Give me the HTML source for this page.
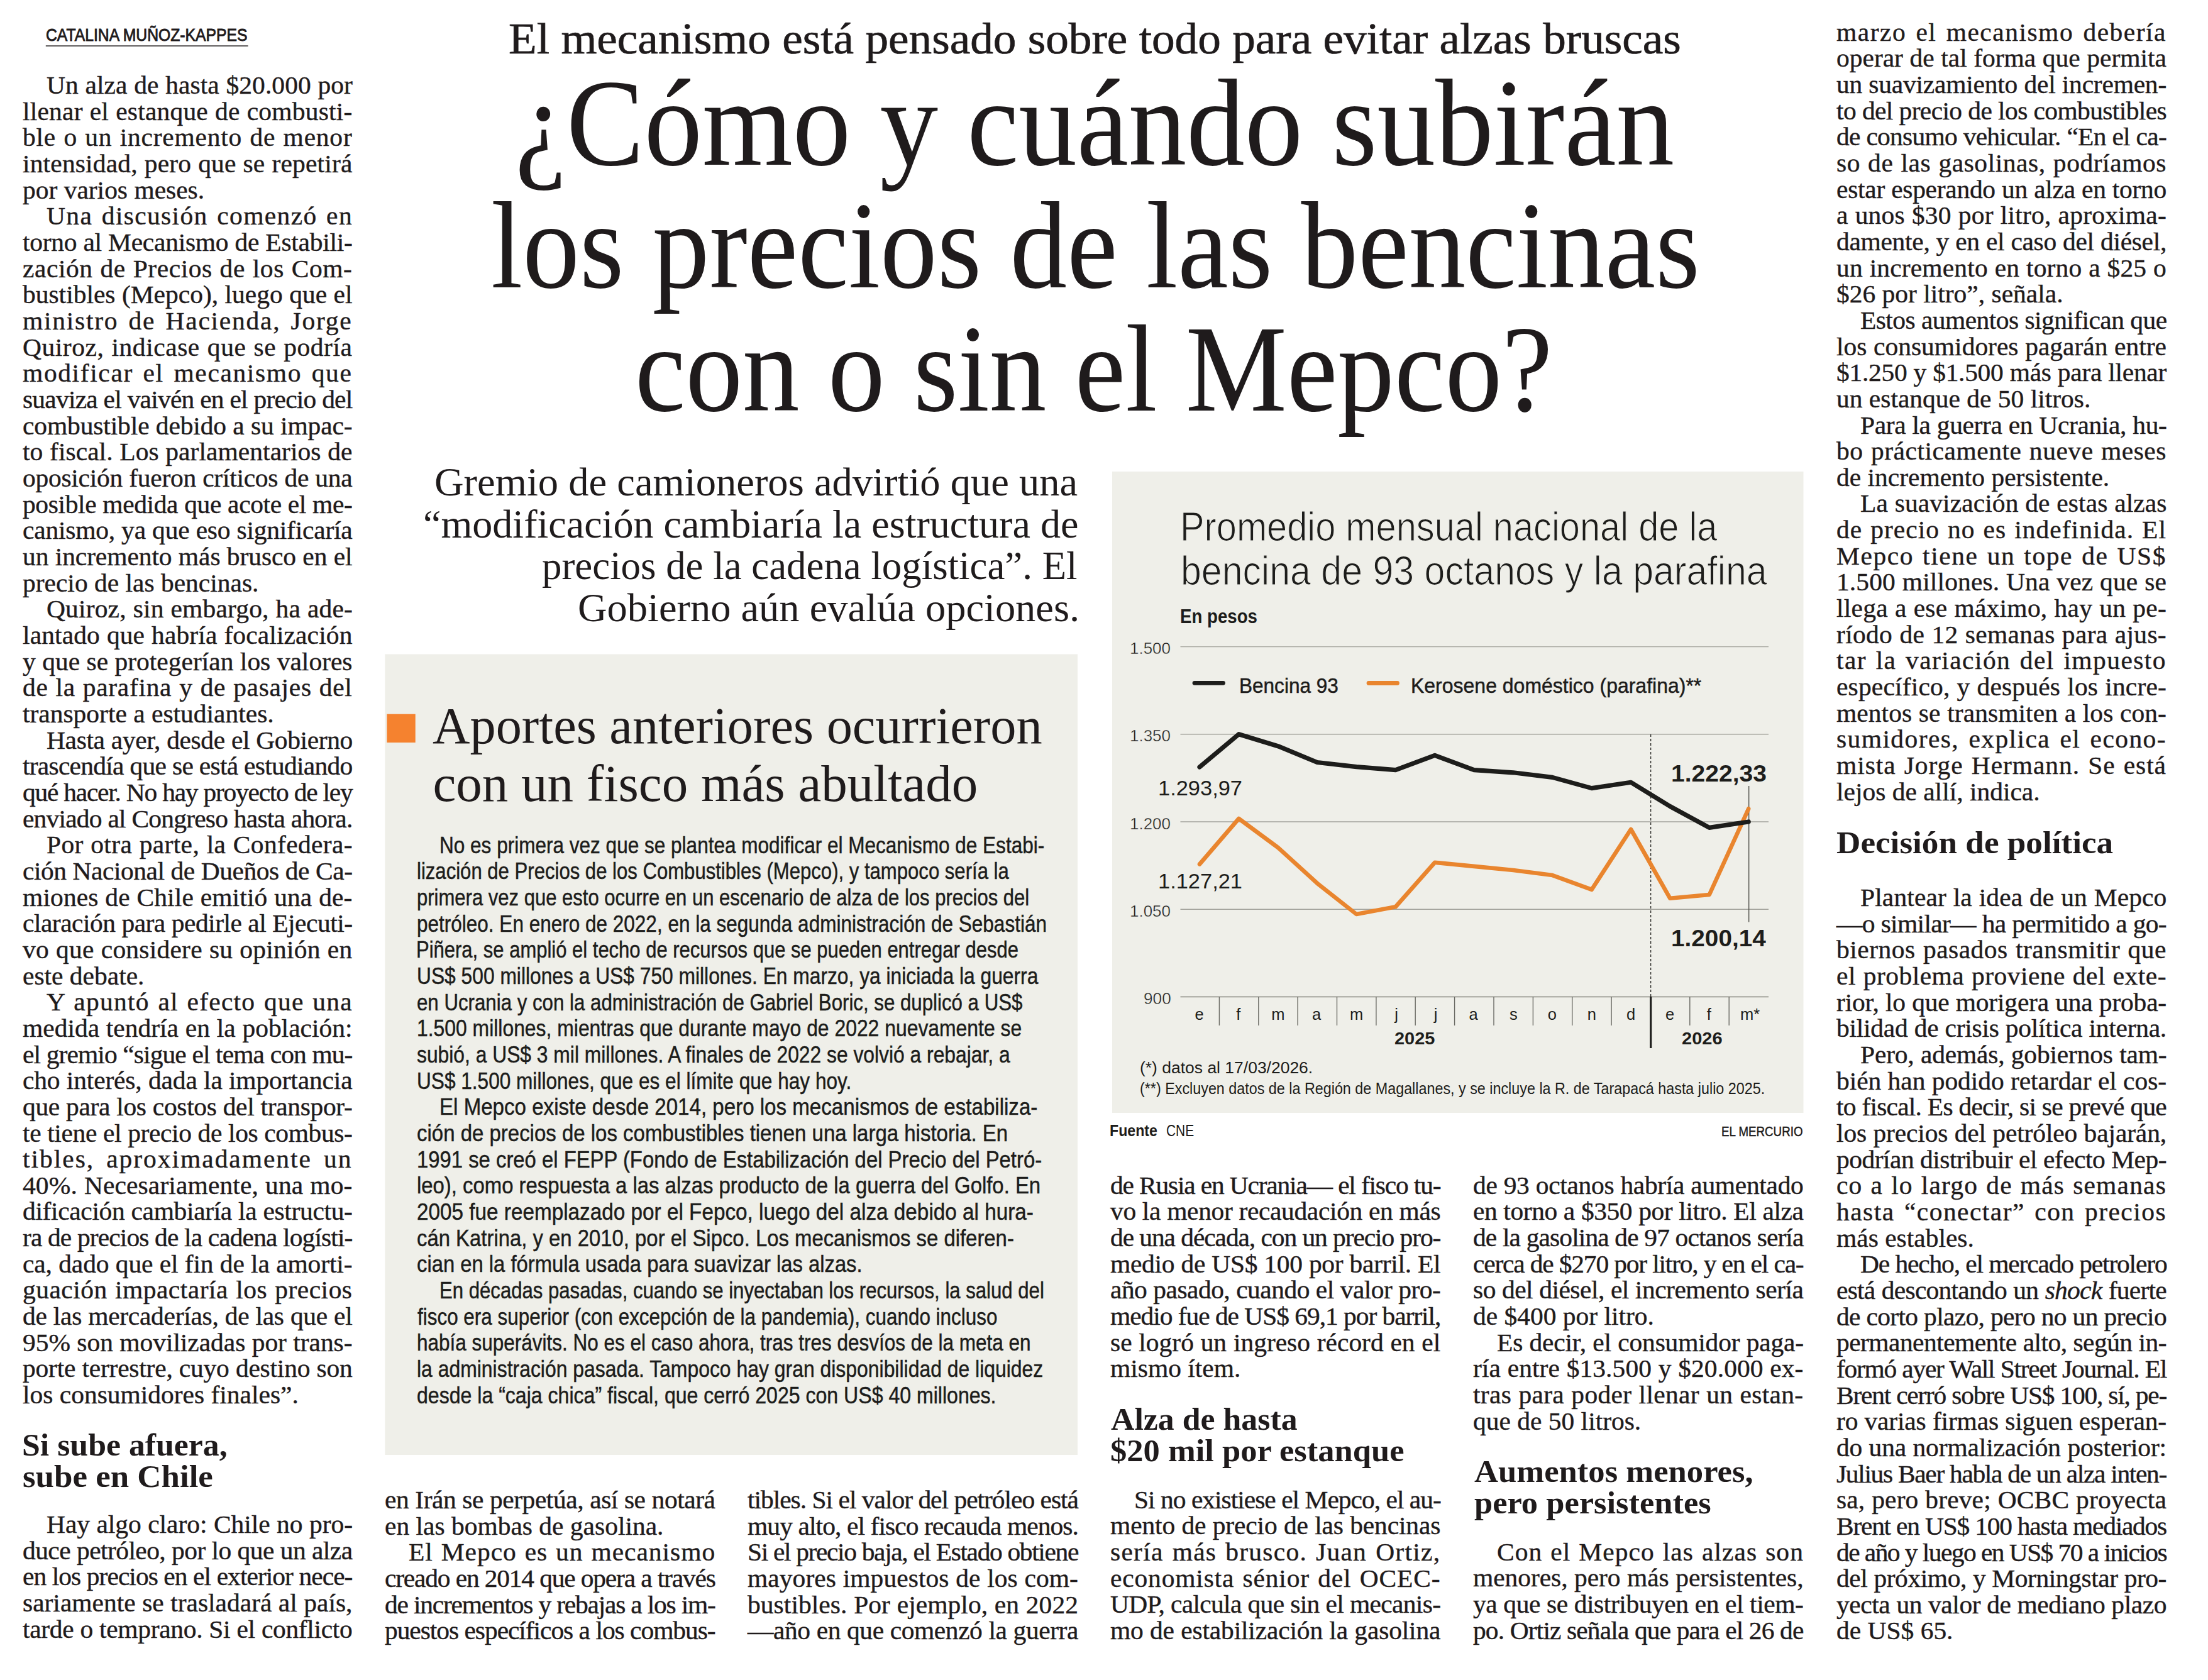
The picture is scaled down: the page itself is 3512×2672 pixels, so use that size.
<!DOCTYPE html>
<html lang="es"><head><meta charset="utf-8"><title>¿Cómo y cuándo subirán los precios de las bencinas con o sin el Mepco?</title>
<style>
html,body{margin:0;padding:0;background:#fff;}
body{width:3512px;height:2672px;position:relative;overflow:hidden;}
.bg{position:absolute;left:0;top:0;}
.l{position:absolute;line-height:0;white-space:nowrap;font-family:"Liberation Serif", serif;color:#1f1b1c;transform-origin:0 0;}
.j{text-align:justify;text-align-last:justify;}
.ss{font-family:"Liberation Sans", sans-serif;}
.bd{-webkit-text-stroke:0.4px #1f1b1c;}
.bx{-webkit-text-stroke:0.5px #1b1b19;}
.yl{-webkit-text-stroke:0.4px #efefe9;}
.by{-webkit-text-stroke:0.9px #1f1b1c;}
.md{-webkit-text-stroke:0.5px #1f1b1c;}
.kk{-webkit-text-stroke:0.7px #1f1b1c;}
.lt{-webkit-text-stroke:1.2px #efefe9;paint-order:normal;}
</style></head>
<body>
<svg class="bg" width="3512" height="2672" viewBox="0 0 3512 2672"><rect x="1769" y="750" width="1099.5" height="1020" fill="#efefe9"/><line x1="1877.5" y1="1028.6" x2="2813" y2="1028.6" stroke="#a3a39c" stroke-width="1.4"/><line x1="1877.5" y1="1167.8" x2="2813" y2="1167.8" stroke="#a3a39c" stroke-width="1.4"/><line x1="1877.5" y1="1307.0" x2="2813" y2="1307.0" stroke="#a3a39c" stroke-width="1.4"/><line x1="1877.5" y1="1446.3" x2="2813" y2="1446.3" stroke="#a3a39c" stroke-width="1.4"/><line x1="1877.5" y1="1585.5" x2="2813" y2="1585.5" stroke="#85857e" stroke-width="1.4"/><line x1="1939.4" y1="1585.5" x2="1939.4" y2="1631" stroke="#6b6b65" stroke-width="1.4"/><line x1="2001.8" y1="1585.5" x2="2001.8" y2="1631" stroke="#6b6b65" stroke-width="1.4"/><line x1="2064.1" y1="1585.5" x2="2064.1" y2="1631" stroke="#6b6b65" stroke-width="1.4"/><line x1="2126.5" y1="1585.5" x2="2126.5" y2="1631" stroke="#6b6b65" stroke-width="1.4"/><line x1="2188.9" y1="1585.5" x2="2188.9" y2="1631" stroke="#6b6b65" stroke-width="1.4"/><line x1="2251.2" y1="1585.5" x2="2251.2" y2="1631" stroke="#6b6b65" stroke-width="1.4"/><line x1="2313.6" y1="1585.5" x2="2313.6" y2="1631" stroke="#6b6b65" stroke-width="1.4"/><line x1="2376.0" y1="1585.5" x2="2376.0" y2="1631" stroke="#6b6b65" stroke-width="1.4"/><line x1="2438.4" y1="1585.5" x2="2438.4" y2="1631" stroke="#6b6b65" stroke-width="1.4"/><line x1="2500.7" y1="1585.5" x2="2500.7" y2="1631" stroke="#6b6b65" stroke-width="1.4"/><line x1="2563.1" y1="1585.5" x2="2563.1" y2="1631" stroke="#6b6b65" stroke-width="1.4"/><line x1="2687.8" y1="1585.5" x2="2687.8" y2="1631" stroke="#6b6b65" stroke-width="1.4"/><line x1="2750.2" y1="1585.5" x2="2750.2" y2="1631" stroke="#6b6b65" stroke-width="1.4"/><line x1="2625.7" y1="1585" x2="2625.7" y2="1667" stroke="#1d1d1b" stroke-width="3.2"/><line x1="2625.7" y1="1168" x2="2625.7" y2="1585" stroke="#1d1d1b" stroke-width="1.2" stroke-dasharray="4 3"/><line x1="2781.7" y1="1250" x2="2781.7" y2="1466.5" stroke="#55554f" stroke-width="1.4"/><polyline points="1908.0,1374.5 1970.4,1302 2032.7,1348 2095.1,1404.8 2157.5,1454 2219.8,1442.3 2282.2,1371.8 2344.6,1377.9 2407.0,1384 2469.3,1392.1 2531.7,1414.9 2594.1,1319 2656.4,1428.8 2718.8,1423 2781.2,1286.3" fill="none" stroke="#e9852e" stroke-width="6.6" stroke-linejoin="round" stroke-linecap="round"/><polyline points="1908.0,1220 1970.4,1167.7 2032.7,1186.7 2095.1,1212.5 2157.5,1219.6 2219.8,1224.7 2282.2,1201.4 2344.6,1224.7 2407.0,1228.8 2469.3,1236.4 2531.7,1253.6 2594.1,1244.3 2656.4,1282.5 2718.8,1316.4 2781.2,1307" fill="none" stroke="#1d1d1b" stroke-width="7.2" stroke-linejoin="round" stroke-linecap="round"/><line x1="1900" y1="1086.3" x2="1945.5" y2="1086.3" stroke="#1d1d1b" stroke-width="6.8" stroke-linecap="round"/><line x1="2177" y1="1086.5" x2="2222.5" y2="1086.5" stroke="#e9852e" stroke-width="6.8" stroke-linecap="round"/><rect x="612.3" y="1040.5" width="1101.7" height="1273.5" fill="#efefe9"/><rect x="615.4" y="1135.7" width="45.3" height="45.3" fill="#f5822f"/><rect x="72.8" y="72.3" width="321.8" height="1.4" fill="#1f1b1c"/></svg>
<div class="l bd j" style="top:136.10px;font-size:39.5px;left:73.50px;width:463.81px;letter-spacing:0.075px;transform:scaleX(1.05)">Un alza de hasta $20.000 por</div>
<div class="l bd j" style="top:177.76px;font-size:39.5px;left:36.00px;width:499.52px;letter-spacing:0.197px;transform:scaleX(1.05)">llenar el estanque de combusti-</div>
<div class="l bd j" style="top:219.42px;font-size:39.5px;left:36.00px;width:499.52px;letter-spacing:0.751px;transform:scaleX(1.05)">ble o un incremento de menor</div>
<div class="l bd j" style="top:261.08px;font-size:39.5px;left:36.00px;width:499.52px;letter-spacing:0.164px;transform:scaleX(1.05)">intensidad, pero que se repetirá</div>
<div class="l bd" style="top:302.74px;font-size:39.5px;left:36.00px;transform:scaleX(1.05)">por varios meses.</div>
<div class="l bd j" style="top:344.40px;font-size:39.5px;left:73.50px;width:463.81px;letter-spacing:1.293px;transform:scaleX(1.05)">Una discusión comenzó en</div>
<div class="l bd j" style="top:386.06px;font-size:39.5px;left:36.00px;width:499.52px;letter-spacing:-0.250px;transform:scaleX(1.05)">torno al Mecanismo de Estabili-</div>
<div class="l bd j" style="top:427.72px;font-size:39.5px;left:36.00px;width:499.52px;letter-spacing:0.542px;transform:scaleX(1.05)">zación de Precios de los Com-</div>
<div class="l bd j" style="top:469.38px;font-size:39.5px;left:36.00px;width:499.52px;letter-spacing:-0.003px;transform:scaleX(1.05)">bustibles (Mepco), luego que el</div>
<div class="l bd j" style="top:511.04px;font-size:39.5px;left:36.00px;width:499.52px;letter-spacing:1.677px;transform:scaleX(1.05)">ministro de Hacienda, Jorge</div>
<div class="l bd j" style="top:552.70px;font-size:39.5px;left:36.00px;width:499.52px;letter-spacing:0.525px;transform:scaleX(1.05)">Quiroz, indicase que se podría</div>
<div class="l bd j" style="top:594.36px;font-size:39.5px;left:36.00px;width:499.52px;letter-spacing:1.552px;transform:scaleX(1.05)">modificar el mecanismo que</div>
<div class="l bd j" style="top:636.02px;font-size:39.5px;left:36.00px;width:499.52px;letter-spacing:-0.741px;transform:scaleX(1.05)">suaviza el vaivén en el precio del</div>
<div class="l bd j" style="top:677.68px;font-size:39.5px;left:36.00px;width:499.52px;letter-spacing:-0.113px;transform:scaleX(1.05)">combustible debido a su impac-</div>
<div class="l bd j" style="top:719.34px;font-size:39.5px;left:36.00px;width:499.52px;letter-spacing:0.054px;transform:scaleX(1.05)">to fiscal. Los parlamentarios de</div>
<div class="l bd j" style="top:761.00px;font-size:39.5px;left:36.00px;width:499.52px;letter-spacing:-0.242px;transform:scaleX(1.05)">oposición fueron críticos de una</div>
<div class="l bd j" style="top:802.66px;font-size:39.5px;left:36.00px;width:499.52px;letter-spacing:-0.354px;transform:scaleX(1.05)">posible medida que acote el me-</div>
<div class="l bd j" style="top:844.32px;font-size:39.5px;left:36.00px;width:499.52px;letter-spacing:-0.207px;transform:scaleX(1.05)">canismo, ya que eso significaría</div>
<div class="l bd j" style="top:885.98px;font-size:39.5px;left:36.00px;width:499.52px;letter-spacing:-0.075px;transform:scaleX(1.05)">un incremento más brusco en el</div>
<div class="l bd" style="top:927.64px;font-size:39.5px;left:36.00px;transform:scaleX(1.05)">precio de las bencinas.</div>
<div class="l bd j" style="top:969.30px;font-size:39.5px;left:73.50px;width:463.81px;letter-spacing:0.159px;transform:scaleX(1.05)">Quiroz, sin embargo, ha ade-</div>
<div class="l bd j" style="top:1010.96px;font-size:39.5px;left:36.00px;width:499.52px;letter-spacing:0.114px;transform:scaleX(1.05)">lantado que habría focalización</div>
<div class="l bd j" style="top:1052.62px;font-size:39.5px;left:36.00px;width:499.52px;letter-spacing:-0.002px;transform:scaleX(1.05)">y que se protegerían los valores</div>
<div class="l bd j" style="top:1094.28px;font-size:39.5px;left:36.00px;width:499.52px;letter-spacing:0.652px;transform:scaleX(1.05)">de la parafina y de pasajes del</div>
<div class="l bd" style="top:1135.94px;font-size:39.5px;left:36.00px;transform:scaleX(1.05)">transporte a estudiantes.</div>
<div class="l bd j" style="top:1177.60px;font-size:39.5px;left:73.50px;width:463.81px;letter-spacing:-0.345px;transform:scaleX(1.05)">Hasta ayer, desde el Gobierno</div>
<div class="l bd j" style="top:1219.26px;font-size:39.5px;left:36.00px;width:499.52px;letter-spacing:-0.699px;transform:scaleX(1.05)">trascendía que se está estudiando</div>
<div class="l bd j" style="top:1260.92px;font-size:39.5px;left:36.00px;width:499.52px;letter-spacing:-1.197px;transform:scaleX(1.05)">qué hacer. No hay proyecto de ley</div>
<div class="l bd j" style="top:1302.58px;font-size:39.5px;left:36.00px;width:499.52px;letter-spacing:-0.756px;transform:scaleX(1.05)">enviado al Congreso hasta ahora.</div>
<div class="l bd j" style="top:1344.24px;font-size:39.5px;left:73.50px;width:463.81px;letter-spacing:0.346px;transform:scaleX(1.05)">Por otra parte, la Confedera-</div>
<div class="l bd j" style="top:1385.90px;font-size:39.5px;left:36.00px;width:499.52px;letter-spacing:-0.440px;transform:scaleX(1.05)">ción Nacional de Dueños de Ca-</div>
<div class="l bd j" style="top:1427.56px;font-size:39.5px;left:36.00px;width:499.52px;letter-spacing:0.114px;transform:scaleX(1.05)">miones de Chile emitió una de-</div>
<div class="l bd j" style="top:1469.22px;font-size:39.5px;left:36.00px;width:499.52px;letter-spacing:-0.481px;transform:scaleX(1.05)">claración para pedirle al Ejecuti-</div>
<div class="l bd j" style="top:1510.88px;font-size:39.5px;left:36.00px;width:499.52px;letter-spacing:0.231px;transform:scaleX(1.05)">vo que considere su opinión en</div>
<div class="l bd" style="top:1552.54px;font-size:39.5px;left:36.00px;transform:scaleX(1.05)">este debate.</div>
<div class="l bd j" style="top:1594.20px;font-size:39.5px;left:73.50px;width:463.81px;letter-spacing:1.196px;transform:scaleX(1.05)">Y apuntó al efecto que una</div>
<div class="l bd j" style="top:1635.86px;font-size:39.5px;left:36.00px;width:499.52px;transform:scaleX(1.05)">medida tendría en la población:</div>
<div class="l bd j" style="top:1677.52px;font-size:39.5px;left:36.00px;width:499.52px;letter-spacing:-0.858px;transform:scaleX(1.05)">el gremio “sigue el tema con mu-</div>
<div class="l bd j" style="top:1719.18px;font-size:39.5px;left:36.00px;width:499.52px;letter-spacing:-0.137px;transform:scaleX(1.05)">cho interés, dada la importancia</div>
<div class="l bd j" style="top:1760.84px;font-size:39.5px;left:36.00px;width:499.52px;letter-spacing:-0.311px;transform:scaleX(1.05)">que para los costos del transpor-</div>
<div class="l bd j" style="top:1802.50px;font-size:39.5px;left:36.00px;width:499.52px;letter-spacing:-0.367px;transform:scaleX(1.05)">te tiene el precio de los combus-</div>
<div class="l bd j" style="top:1844.16px;font-size:39.5px;left:36.00px;width:499.52px;letter-spacing:1.888px;transform:scaleX(1.05)">tibles, aproximadamente un</div>
<div class="l bd j" style="top:1885.82px;font-size:39.5px;left:36.00px;width:499.52px;letter-spacing:0.125px;transform:scaleX(1.05)">40%. Necesariamente, una mo-</div>
<div class="l bd j" style="top:1927.48px;font-size:39.5px;left:36.00px;width:499.52px;letter-spacing:-0.331px;transform:scaleX(1.05)">dificación cambiaría la estructu-</div>
<div class="l bd j" style="top:1969.14px;font-size:39.5px;left:36.00px;width:499.52px;letter-spacing:-0.846px;transform:scaleX(1.05)">ra de precios de la cadena logísti-</div>
<div class="l bd j" style="top:2010.80px;font-size:39.5px;left:36.00px;width:499.52px;letter-spacing:-0.100px;transform:scaleX(1.05)">ca, dado que el fin de la amorti-</div>
<div class="l bd j" style="top:2052.46px;font-size:39.5px;left:36.00px;width:499.52px;letter-spacing:0.467px;transform:scaleX(1.05)">guación impactaría los precios</div>
<div class="l bd j" style="top:2094.12px;font-size:39.5px;left:36.00px;width:499.52px;letter-spacing:-0.265px;transform:scaleX(1.05)">de las mercaderías, de las que el</div>
<div class="l bd j" style="top:2135.78px;font-size:39.5px;left:36.00px;width:499.52px;letter-spacing:-0.040px;transform:scaleX(1.05)">95% son movilizadas por trans-</div>
<div class="l bd j" style="top:2177.44px;font-size:39.5px;left:36.00px;width:499.52px;letter-spacing:-0.201px;transform:scaleX(1.05)">porte terrestre, cuyo destino son</div>
<div class="l bd" style="top:2219.10px;font-size:39.5px;left:36.00px;transform:scaleX(1.05)">los consumidores finales”.</div>
<div class="l bd j" style="top:2425.00px;font-size:39.5px;left:73.50px;width:463.81px;letter-spacing:-0.023px;transform:scaleX(1.05)">Hay algo claro: Chile no pro-</div>
<div class="l bd j" style="top:2466.66px;font-size:39.5px;left:36.00px;width:499.52px;letter-spacing:-0.532px;transform:scaleX(1.05)">duce petróleo, por lo que un alza</div>
<div class="l bd j" style="top:2508.32px;font-size:39.5px;left:36.00px;width:499.52px;letter-spacing:-0.908px;transform:scaleX(1.05)">en los precios en el exterior nece-</div>
<div class="l bd j" style="top:2549.98px;font-size:39.5px;left:36.00px;width:499.52px;transform:scaleX(1.05)">sariamente se trasladará al país,</div>
<div class="l bd j" style="top:2591.64px;font-size:39.5px;left:36.00px;width:499.52px;letter-spacing:-0.301px;transform:scaleX(1.05)">tarde o temprano. Si el conflicto</div>
<div class="l bd j" style="top:2386.00px;font-size:39.5px;left:612.40px;width:500.57px;letter-spacing:-0.420px;transform:scaleX(1.05)">en Irán se perpetúa, así se notará</div>
<div class="l bd" style="top:2427.66px;font-size:39.5px;left:612.40px;transform:scaleX(1.05)">en las bombas de gasolina.</div>
<div class="l bd j" style="top:2469.32px;font-size:39.5px;left:649.90px;width:464.86px;letter-spacing:0.926px;transform:scaleX(1.05)">El Mepco es un mecanismo</div>
<div class="l bd j" style="top:2510.98px;font-size:39.5px;left:612.40px;width:500.57px;letter-spacing:-1.130px;transform:scaleX(1.05)">creado en 2014 que opera a través</div>
<div class="l bd j" style="top:2552.64px;font-size:39.5px;left:612.40px;width:500.57px;letter-spacing:-1.164px;transform:scaleX(1.05)">de incrementos y rebajas a los im-</div>
<div class="l bd j" style="top:2594.30px;font-size:39.5px;left:612.40px;width:500.57px;letter-spacing:-1.002px;transform:scaleX(1.05)">puestos específicos a los combus-</div>
<div class="l bd j" style="top:2386.00px;font-size:39.5px;left:1189.00px;width:500.95px;letter-spacing:-0.971px;transform:scaleX(1.05)">tibles. Si el valor del petróleo está</div>
<div class="l bd j" style="top:2427.66px;font-size:39.5px;left:1189.00px;width:500.95px;letter-spacing:-0.889px;transform:scaleX(1.05)">muy alto, el fisco recauda menos.</div>
<div class="l bd j" style="top:2469.32px;font-size:39.5px;left:1189.00px;width:500.95px;letter-spacing:-1.302px;transform:scaleX(1.05)">Si el precio baja, el Estado obtiene</div>
<div class="l bd j" style="top:2510.98px;font-size:39.5px;left:1189.00px;width:500.95px;letter-spacing:0.066px;transform:scaleX(1.05)">mayores impuestos de los com-</div>
<div class="l bd j" style="top:2552.64px;font-size:39.5px;left:1189.00px;width:500.95px;letter-spacing:0.061px;transform:scaleX(1.05)">bustibles. Por ejemplo, en 2022</div>
<div class="l bd j" style="top:2594.30px;font-size:39.5px;left:1189.00px;width:500.95px;letter-spacing:-0.404px;transform:scaleX(1.05)">—año en que comenzó la guerra</div>
<div class="l bd j" style="top:1885.80px;font-size:39.5px;left:1766.30px;width:500.29px;letter-spacing:-1.141px;transform:scaleX(1.05)">de Rusia en Ucrania— el fisco tu-</div>
<div class="l bd j" style="top:1927.46px;font-size:39.5px;left:1766.30px;width:500.29px;letter-spacing:-0.340px;transform:scaleX(1.05)">vo la menor recaudación en más</div>
<div class="l bd j" style="top:1969.12px;font-size:39.5px;left:1766.30px;width:500.29px;letter-spacing:-1.040px;transform:scaleX(1.05)">de una década, con un precio pro-</div>
<div class="l bd j" style="top:2010.78px;font-size:39.5px;left:1766.30px;width:500.29px;letter-spacing:-0.263px;transform:scaleX(1.05)">medio de US$ 100 por barril. El</div>
<div class="l bd j" style="top:2052.44px;font-size:39.5px;left:1766.30px;width:500.29px;letter-spacing:-0.491px;transform:scaleX(1.05)">año pasado, cuando el valor pro-</div>
<div class="l bd j" style="top:2094.10px;font-size:39.5px;left:1766.30px;width:500.29px;letter-spacing:-1.011px;transform:scaleX(1.05)">medio fue de US$ 69,1 por barril,</div>
<div class="l bd j" style="top:2135.76px;font-size:39.5px;left:1766.30px;width:500.29px;transform:scaleX(1.05)">se logró un ingreso récord en el</div>
<div class="l bd" style="top:2177.42px;font-size:39.5px;left:1766.30px;transform:scaleX(1.05)">mismo ítem.</div>
<div class="l bd j" style="top:2385.60px;font-size:39.5px;left:1803.80px;width:464.57px;letter-spacing:-0.958px;transform:scaleX(1.05)">Si no existiese el Mepco, el au-</div>
<div class="l bd j" style="top:2427.26px;font-size:39.5px;left:1766.30px;width:500.29px;letter-spacing:-0.118px;transform:scaleX(1.05)">mento de precio de las bencinas</div>
<div class="l bd j" style="top:2468.92px;font-size:39.5px;left:1766.30px;width:500.29px;letter-spacing:1.199px;transform:scaleX(1.05)">sería más brusco. Juan Ortiz,</div>
<div class="l bd j" style="top:2510.58px;font-size:39.5px;left:1766.30px;width:500.29px;letter-spacing:0.799px;transform:scaleX(1.05)">economista sénior del OCEC-</div>
<div class="l bd j" style="top:2552.24px;font-size:39.5px;left:1766.30px;width:500.29px;letter-spacing:-0.629px;transform:scaleX(1.05)">UDP, calcula que sin el mecanis-</div>
<div class="l bd j" style="top:2593.90px;font-size:39.5px;left:1766.30px;width:500.29px;letter-spacing:-0.149px;transform:scaleX(1.05)">mo de estabilización la gasolina</div>
<div class="l bd j" style="top:1885.80px;font-size:39.5px;left:2343.00px;width:500.48px;letter-spacing:-0.298px;transform:scaleX(1.05)">de 93 octanos habría aumentado</div>
<div class="l bd j" style="top:1927.46px;font-size:39.5px;left:2343.00px;width:500.48px;letter-spacing:-0.393px;transform:scaleX(1.05)">en torno a $350 por litro. El alza</div>
<div class="l bd j" style="top:1969.12px;font-size:39.5px;left:2343.00px;width:500.48px;letter-spacing:-0.844px;transform:scaleX(1.05)">de la gasolina de 97 octanos sería</div>
<div class="l bd j" style="top:2010.78px;font-size:39.5px;left:2343.00px;width:500.48px;letter-spacing:-1.131px;transform:scaleX(1.05)">cerca de $270 por litro, y en el ca-</div>
<div class="l bd j" style="top:2052.44px;font-size:39.5px;left:2343.00px;width:500.48px;letter-spacing:-0.457px;transform:scaleX(1.05)">so del diésel, el incremento sería</div>
<div class="l bd" style="top:2094.10px;font-size:39.5px;left:2343.00px;transform:scaleX(1.05)">de $400 por litro.</div>
<div class="l bd j" style="top:2135.76px;font-size:39.5px;left:2380.50px;width:464.76px;letter-spacing:-0.162px;transform:scaleX(1.05)">Es decir, el consumidor paga-</div>
<div class="l bd j" style="top:2177.42px;font-size:39.5px;left:2343.00px;width:500.48px;letter-spacing:0.079px;transform:scaleX(1.05)">ría entre $13.500 y $20.000 ex-</div>
<div class="l bd j" style="top:2219.08px;font-size:39.5px;left:2343.00px;width:500.48px;letter-spacing:0.298px;transform:scaleX(1.05)">tras para poder llenar un estan-</div>
<div class="l bd" style="top:2260.74px;font-size:39.5px;left:2343.00px;transform:scaleX(1.05)">que de 50 litros.</div>
<div class="l bd j" style="top:2468.60px;font-size:39.5px;left:2380.50px;width:464.76px;letter-spacing:1.020px;transform:scaleX(1.05)">Con el Mepco las alzas son</div>
<div class="l bd j" style="top:2510.26px;font-size:39.5px;left:2343.00px;width:500.48px;letter-spacing:-0.042px;transform:scaleX(1.05)">menores, pero más persistentes,</div>
<div class="l bd j" style="top:2551.92px;font-size:39.5px;left:2343.00px;width:500.48px;letter-spacing:-0.405px;transform:scaleX(1.05)">ya que se distribuyen en el tiem-</div>
<div class="l bd j" style="top:2593.58px;font-size:39.5px;left:2343.00px;width:500.48px;letter-spacing:-0.843px;transform:scaleX(1.05)">po. Ortiz señala que para el 26 de</div>
<div class="l bd j" style="top:51.60px;font-size:39.5px;left:2921.00px;width:500.00px;letter-spacing:1.433px;transform:scaleX(1.05)">marzo el mecanismo debería</div>
<div class="l bd j" style="top:93.26px;font-size:39.5px;left:2921.00px;width:500.00px;transform:scaleX(1.05)">operar de tal forma que permita</div>
<div class="l bd j" style="top:134.92px;font-size:39.5px;left:2921.00px;width:500.00px;letter-spacing:-0.204px;transform:scaleX(1.05)">un suavizamiento del incremen-</div>
<div class="l bd j" style="top:176.58px;font-size:39.5px;left:2921.00px;width:500.00px;letter-spacing:-0.587px;transform:scaleX(1.05)">to del precio de los combustibles</div>
<div class="l bd j" style="top:218.24px;font-size:39.5px;left:2921.00px;width:500.00px;letter-spacing:-0.705px;transform:scaleX(1.05)">de consumo vehicular. “En el ca-</div>
<div class="l bd j" style="top:259.90px;font-size:39.5px;left:2921.00px;width:500.00px;letter-spacing:0.535px;transform:scaleX(1.05)">so de las gasolinas, podríamos</div>
<div class="l bd j" style="top:301.56px;font-size:39.5px;left:2921.00px;width:500.00px;letter-spacing:-0.259px;transform:scaleX(1.05)">estar esperando un alza en torno</div>
<div class="l bd j" style="top:343.22px;font-size:39.5px;left:2921.00px;width:500.00px;letter-spacing:0.208px;transform:scaleX(1.05)">a unos $30 por litro, aproxima-</div>
<div class="l bd j" style="top:384.88px;font-size:39.5px;left:2921.00px;width:500.00px;letter-spacing:-0.285px;transform:scaleX(1.05)">damente, y en el caso del diésel,</div>
<div class="l bd j" style="top:426.54px;font-size:39.5px;left:2921.00px;width:500.00px;letter-spacing:0.157px;transform:scaleX(1.05)">un incremento en torno a $25 o</div>
<div class="l bd" style="top:468.20px;font-size:39.5px;left:2921.00px;transform:scaleX(1.05)">$26 por litro”, señala.</div>
<div class="l bd j" style="top:509.86px;font-size:39.5px;left:2958.50px;width:464.29px;letter-spacing:-0.538px;transform:scaleX(1.05)">Estos aumentos significan que</div>
<div class="l bd j" style="top:551.52px;font-size:39.5px;left:2921.00px;width:500.00px;transform:scaleX(1.05)">los consumidores pagarán entre</div>
<div class="l bd j" style="top:593.18px;font-size:39.5px;left:2921.00px;width:500.00px;letter-spacing:-0.271px;transform:scaleX(1.05)">$1.250 y $1.500 más para llenar</div>
<div class="l bd" style="top:634.84px;font-size:39.5px;left:2921.00px;transform:scaleX(1.05)">un estanque de 50 litros.</div>
<div class="l bd j" style="top:676.50px;font-size:39.5px;left:2958.50px;width:464.29px;letter-spacing:-0.332px;transform:scaleX(1.05)">Para la guerra en Ucrania, hu-</div>
<div class="l bd j" style="top:718.16px;font-size:39.5px;left:2921.00px;width:500.00px;letter-spacing:0.515px;transform:scaleX(1.05)">bo prácticamente nueve meses</div>
<div class="l bd" style="top:759.82px;font-size:39.5px;left:2921.00px;transform:scaleX(1.05)">de incremento persistente.</div>
<div class="l bd j" style="top:801.48px;font-size:39.5px;left:2958.50px;width:464.29px;letter-spacing:0.087px;transform:scaleX(1.05)">La suavización de estas alzas</div>
<div class="l bd j" style="top:843.14px;font-size:39.5px;left:2921.00px;width:500.00px;letter-spacing:0.977px;transform:scaleX(1.05)">de precio no es indefinida. El</div>
<div class="l bd j" style="top:884.80px;font-size:39.5px;left:2921.00px;width:500.00px;letter-spacing:1.497px;transform:scaleX(1.05)">Mepco tiene un tope de US$</div>
<div class="l bd j" style="top:926.46px;font-size:39.5px;left:2921.00px;width:500.00px;letter-spacing:0.127px;transform:scaleX(1.05)">1.500 millones. Una vez que se</div>
<div class="l bd j" style="top:968.12px;font-size:39.5px;left:2921.00px;width:500.00px;letter-spacing:0.246px;transform:scaleX(1.05)">llega a ese máximo, hay un pe-</div>
<div class="l bd j" style="top:1009.78px;font-size:39.5px;left:2921.00px;width:500.00px;letter-spacing:0.304px;transform:scaleX(1.05)">ríodo de 12 semanas para ajus-</div>
<div class="l bd j" style="top:1051.44px;font-size:39.5px;left:2921.00px;width:500.00px;letter-spacing:1.374px;transform:scaleX(1.05)">tar la variación del impuesto</div>
<div class="l bd j" style="top:1093.10px;font-size:39.5px;left:2921.00px;width:500.00px;letter-spacing:0.176px;transform:scaleX(1.05)">específico, y después los incre-</div>
<div class="l bd j" style="top:1134.76px;font-size:39.5px;left:2921.00px;width:500.00px;letter-spacing:0.066px;transform:scaleX(1.05)">mentos se transmiten a los con-</div>
<div class="l bd j" style="top:1176.42px;font-size:39.5px;left:2921.00px;width:500.00px;letter-spacing:1.360px;transform:scaleX(1.05)">sumidores, explica el econo-</div>
<div class="l bd j" style="top:1218.08px;font-size:39.5px;left:2921.00px;width:500.00px;letter-spacing:0.909px;transform:scaleX(1.05)">mista Jorge Hermann. Se está</div>
<div class="l bd" style="top:1259.74px;font-size:39.5px;left:2921.00px;transform:scaleX(1.05)">lejos de allí, indica.</div>
<div class="l bd j" style="top:1428.00px;font-size:39.5px;left:2958.50px;width:464.29px;letter-spacing:0.121px;transform:scaleX(1.05)">Plantear la idea de un Mepco</div>
<div class="l bd j" style="top:1469.66px;font-size:39.5px;left:2921.00px;width:500.00px;letter-spacing:-0.646px;transform:scaleX(1.05)">—o similar— ha permitido a go-</div>
<div class="l bd j" style="top:1511.32px;font-size:39.5px;left:2921.00px;width:500.00px;letter-spacing:0.478px;transform:scaleX(1.05)">biernos pasados transmitir que</div>
<div class="l bd j" style="top:1552.98px;font-size:39.5px;left:2921.00px;width:500.00px;letter-spacing:0.452px;transform:scaleX(1.05)">el problema proviene del exte-</div>
<div class="l bd j" style="top:1594.64px;font-size:39.5px;left:2921.00px;width:500.00px;letter-spacing:-0.177px;transform:scaleX(1.05)">rior, lo que morigera una proba-</div>
<div class="l bd j" style="top:1636.30px;font-size:39.5px;left:2921.00px;width:500.00px;letter-spacing:-0.239px;transform:scaleX(1.05)">bilidad de crisis política interna.</div>
<div class="l bd j" style="top:1677.96px;font-size:39.5px;left:2958.50px;width:464.29px;letter-spacing:-0.164px;transform:scaleX(1.05)">Pero, además, gobiernos tam-</div>
<div class="l bd j" style="top:1719.62px;font-size:39.5px;left:2921.00px;width:500.00px;letter-spacing:-0.054px;transform:scaleX(1.05)">bién han podido retardar el cos-</div>
<div class="l bd j" style="top:1761.28px;font-size:39.5px;left:2921.00px;width:500.00px;letter-spacing:-0.736px;transform:scaleX(1.05)">to fiscal. Es decir, si se prevé que</div>
<div class="l bd j" style="top:1802.94px;font-size:39.5px;left:2921.00px;width:500.00px;letter-spacing:-0.119px;transform:scaleX(1.05)">los precios del petróleo bajarán,</div>
<div class="l bd j" style="top:1844.60px;font-size:39.5px;left:2921.00px;width:500.00px;letter-spacing:-0.486px;transform:scaleX(1.05)">podrían distribuir el efecto Mep-</div>
<div class="l bd j" style="top:1886.26px;font-size:39.5px;left:2921.00px;width:500.00px;letter-spacing:1.130px;transform:scaleX(1.05)">co a lo largo de más semanas</div>
<div class="l bd j" style="top:1927.92px;font-size:39.5px;left:2921.00px;width:500.00px;letter-spacing:1.394px;transform:scaleX(1.05)">hasta “conectar” con precios</div>
<div class="l bd" style="top:1969.58px;font-size:39.5px;left:2921.00px;transform:scaleX(1.05)">más estables.</div>
<div class="l bd j" style="top:2011.24px;font-size:39.5px;left:2958.50px;width:464.29px;letter-spacing:-1.100px;transform:scaleX(1.05)">De hecho, el mercado petrolero</div>
<div class="l bd j" style="top:2052.90px;font-size:39.5px;left:2921.00px;width:500.00px;letter-spacing:-0.706px;transform:scaleX(1.05)">está descontando un <i>shock</i> fuerte</div>
<div class="l bd j" style="top:2094.56px;font-size:39.5px;left:2921.00px;width:500.00px;letter-spacing:-0.651px;transform:scaleX(1.05)">de corto plazo, pero no un precio</div>
<div class="l bd j" style="top:2136.22px;font-size:39.5px;left:2921.00px;width:500.00px;letter-spacing:-0.516px;transform:scaleX(1.05)">permanentemente alto, según in-</div>
<div class="l bd j" style="top:2177.88px;font-size:39.5px;left:2921.00px;width:500.00px;letter-spacing:-1.217px;transform:scaleX(1.05)">formó ayer Wall Street Journal. El</div>
<div class="l bd j" style="top:2219.54px;font-size:39.5px;left:2921.00px;width:500.00px;letter-spacing:-1.183px;transform:scaleX(1.05)">Brent cerró sobre US$ 100, sí, pe-</div>
<div class="l bd j" style="top:2261.20px;font-size:39.5px;left:2921.00px;width:500.00px;letter-spacing:-0.157px;transform:scaleX(1.05)">ro varias firmas siguen esperan-</div>
<div class="l bd j" style="top:2302.86px;font-size:39.5px;left:2921.00px;width:500.00px;letter-spacing:-0.128px;transform:scaleX(1.05)">do una normalización posterior:</div>
<div class="l bd j" style="top:2344.52px;font-size:39.5px;left:2921.00px;width:500.00px;letter-spacing:-1.272px;transform:scaleX(1.05)">Julius Baer habla de un alza inten-</div>
<div class="l bd j" style="top:2386.18px;font-size:39.5px;left:2921.00px;width:500.00px;letter-spacing:0.133px;transform:scaleX(1.05)">sa, pero breve; OCBC proyecta</div>
<div class="l bd j" style="top:2427.84px;font-size:39.5px;left:2921.00px;width:500.00px;letter-spacing:-1.192px;transform:scaleX(1.05)">Brent en US$ 100 hasta mediados</div>
<div class="l bd j" style="top:2469.50px;font-size:39.5px;left:2921.00px;width:500.00px;letter-spacing:-1.506px;transform:scaleX(1.05)">de año y luego en US$ 70 a inicios</div>
<div class="l bd j" style="top:2511.16px;font-size:39.5px;left:2921.00px;width:500.00px;letter-spacing:-0.414px;transform:scaleX(1.05)">del próximo, y Morningstar pro-</div>
<div class="l bd j" style="top:2552.82px;font-size:39.5px;left:2921.00px;width:500.00px;letter-spacing:-0.409px;transform:scaleX(1.05)">yecta un valor de mediano plazo</div>
<div class="l bd" style="top:2594.48px;font-size:39.5px;left:2921.00px;transform:scaleX(1.05)">de US$ 65.</div>
<div class="l" style="top:2298.10px;font-size:51.5px;font-weight:700;left:35.09px;transform:scaleX(1.0059)">Si sube afuera,</div>
<div class="l" style="top:2348.40px;font-size:51.5px;font-weight:700;left:35.77px;transform:scaleX(1.0274)">sube en Chile</div>
<div class="l" style="top:2256.60px;font-size:51.5px;font-weight:700;left:1766.70px;transform:scaleX(1.0063)">Alza de hasta</div>
<div class="l" style="top:2306.50px;font-size:51.5px;font-weight:700;left:1766.08px;transform:scaleX(1.0202)">$20 mil por estanque</div>
<div class="l" style="top:2340.00px;font-size:51.5px;font-weight:700;left:2344.70px;transform:scaleX(1.0224)">Aumentos menores,</div>
<div class="l" style="top:2389.70px;font-size:51.5px;font-weight:700;left:2345.20px;transform:scaleX(1.0196)">pero persistentes</div>
<div class="l" style="top:1340.00px;font-size:51.5px;font-weight:700;left:2920.90px;transform:scaleX(1.0326)">Decisión de política</div>
<div class="l ss by" style="top:56.20px;font-size:27.5px;left:72.50px;transform:scaleX(0.8987)">CATALINA MUÑOZ-KAPPES</div>
<div class="l kk" style="top:62.30px;font-size:69px;left:808.84px;transform:scaleX(1.0614)">El mecanismo está pensado sobre todo para evitar alzas bruscas</div>
<div class="l" style="top:195.60px;font-size:198px;left:818.73px;transform:scaleX(0.9341)">¿Cómo y cuándo subirán</div>
<div class="l" style="top:391.30px;font-size:198px;left:780.75px;transform:scaleX(0.9154)">los precios de las bencinas</div>
<div class="l" style="top:587.20px;font-size:198px;left:1010.19px;transform:scaleX(0.9153)">con o sin el Mepco?</div>
<div class="l" style="top:767.40px;font-size:62.5px;left:691.03px;transform:scaleX(1.0325)">Gremio de camioneros advirtió que una</div>
<div class="l" style="top:833.50px;font-size:62.5px;left:672.95px;transform:scaleX(1.0251)">“modificación cambiaría la estructura de</div>
<div class="l" style="top:900.30px;font-size:62.5px;left:862.39px;transform:scaleX(1.0055)">precios de la cadena logística”. El</div>
<div class="l" style="top:967.20px;font-size:62.5px;left:919.14px;transform:scaleX(1.0311)">Gobierno aún evalúa opciones.</div>
<div class="l" style="top:1153.50px;font-size:83px;left:687.90px;transform:scaleX(0.9923)">Aportes anteriores ocurrieron</div>
<div class="l" style="top:1245.90px;font-size:83px;left:688.50px;transform:scaleX(1.0000)">con un fisco más abultado</div>
<div class="l ss bx" style="top:1343.70px;font-size:37.5px;color:#1d1d1b;left:699.08px;transform:scaleX(0.8409)">No es primera vez que se plantea modificar el Mecanismo de Estabi-</div>
<div class="l ss bx" style="top:1385.36px;font-size:37.5px;color:#1d1d1b;left:662.64px;transform:scaleX(0.8291)">lización de Precios de los Combustibles (Mepco), y tampoco sería la</div>
<div class="l ss bx" style="top:1427.02px;font-size:37.5px;color:#1d1d1b;left:662.65px;transform:scaleX(0.8272)">primera vez que esto ocurre en un escenario de alza de los precios del</div>
<div class="l ss bx" style="top:1468.68px;font-size:37.5px;color:#1d1d1b;left:662.62px;transform:scaleX(0.8402)">petróleo. En enero de 2022, en la segunda administración de Sebastián</div>
<div class="l ss bx" style="top:1510.34px;font-size:37.5px;color:#1d1d1b;left:661.82px;transform:scaleX(0.8264)">Piñera, se amplió el techo de recursos que se pueden entregar desde</div>
<div class="l ss bx" style="top:1552.00px;font-size:37.5px;color:#1d1d1b;left:662.61px;transform:scaleX(0.8467)">US$ 500 millones a US$ 750 millones. En marzo, ya iniciada la guerra</div>
<div class="l ss bx" style="top:1593.66px;font-size:37.5px;color:#1d1d1b;left:663.47px;transform:scaleX(0.8328)">en Ucrania y con la administración de Gabriel Boric, se duplicó a US$</div>
<div class="l ss bx" style="top:1635.32px;font-size:37.5px;color:#1d1d1b;left:662.60px;transform:scaleX(0.8500)">1.500 millones, mientras que durante mayo de 2022 nuevamente se</div>
<div class="l ss bx" style="top:1676.98px;font-size:37.5px;color:#1d1d1b;left:663.45px;transform:scaleX(0.8477)">subió, a US$ 3 mil millones. A finales de 2022 se volvió a rebajar, a</div>
<div class="l ss bx" style="top:1718.64px;font-size:37.5px;color:#1d1d1b;left:662.62px;transform:scaleX(0.8424)">US$ 1.500 millones, que es el límite que hay hoy.</div>
<div class="l ss bx" style="top:1760.30px;font-size:37.5px;color:#1d1d1b;left:698.95px;transform:scaleX(0.8828)">El Mepco existe desde 2014, pero los mecanismos de estabiliza-</div>
<div class="l ss bx" style="top:1801.96px;font-size:37.5px;color:#1d1d1b;left:663.42px;transform:scaleX(0.8792)">ción de precios de los combustibles tienen una larga historia. En</div>
<div class="l ss bx" style="top:1843.62px;font-size:37.5px;color:#1d1d1b;left:662.55px;transform:scaleX(0.8756)">1991 se creó el FEPP (Fondo de Estabilización del Precio del Petró-</div>
<div class="l ss bx" style="top:1885.28px;font-size:37.5px;color:#1d1d1b;left:662.55px;transform:scaleX(0.8765)">leo), como respuesta a las alzas producto de la guerra del Golfo. En</div>
<div class="l ss bx" style="top:1926.94px;font-size:37.5px;color:#1d1d1b;left:663.41px;transform:scaleX(0.8878)">2005 fue reemplazado por el Fepco, luego del alza debido al hura-</div>
<div class="l ss bx" style="top:1968.60px;font-size:37.5px;color:#1d1d1b;left:663.42px;transform:scaleX(0.8763)">cán Katrina, y en 2010, por el Sipco. Los mecanismos se diferen-</div>
<div class="l ss bx" style="top:2010.26px;font-size:37.5px;color:#1d1d1b;left:663.43px;transform:scaleX(0.8739)">cian en la fórmula usada para suavizar las alzas.</div>
<div class="l ss bx" style="top:2051.92px;font-size:37.5px;color:#1d1d1b;left:699.11px;transform:scaleX(0.8298)">En décadas pasadas, cuando se inyectaban los recursos, la salud del</div>
<div class="l ss bx" style="top:2093.58px;font-size:37.5px;color:#1d1d1b;left:664.30px;transform:scaleX(0.8381)">fisco era superior (con excepción de la pandemia), cuando incluso</div>
<div class="l ss bx" style="top:2135.24px;font-size:37.5px;color:#1d1d1b;left:662.62px;transform:scaleX(0.8395)">había superávits. No es el caso ahora, tras tres desvíos de la meta en</div>
<div class="l ss bx" style="top:2176.90px;font-size:37.5px;color:#1d1d1b;left:662.60px;transform:scaleX(0.8509)">la administración pasada. Tampoco hay gran disponibilidad de liquidez</div>
<div class="l ss bx" style="top:2218.56px;font-size:37.5px;color:#1d1d1b;left:663.44px;transform:scaleX(0.8551)">desde la “caja chica” fiscal, que cerró 2025 con US$ 40 millones.</div>
<div class="l ss lt" style="top:837.70px;font-size:64px;color:#1d1d1b;left:1877.19px;transform:scaleX(0.9029)">Promedio mensual nacional de la</div>
<div class="l ss lt" style="top:908.40px;font-size:64px;color:#1d1d1b;left:1877.71px;transform:scaleX(0.9229)">bencina de 93 octanos y la parafina</div>
<div class="l ss" style="top:979.70px;font-size:32px;font-weight:700;color:#1d1d1b;left:1877.27px;transform:scaleX(0.8640)">En pesos</div>
<div class="l ss yl" style="top:1030.90px;font-size:25px;color:#1d1d1b;left:1796.96px;transform:scaleX(1.0386)">1.500</div>
<div class="l ss yl" style="top:1170.00px;font-size:25px;color:#1d1d1b;left:1796.96px;transform:scaleX(1.0386)">1.350</div>
<div class="l ss yl" style="top:1309.50px;font-size:25px;color:#1d1d1b;left:1796.96px;transform:scaleX(1.0386)">1.200</div>
<div class="l ss yl" style="top:1448.50px;font-size:25px;color:#1d1d1b;left:1796.96px;transform:scaleX(1.0386)">1.050</div>
<div class="l ss yl" style="top:1587.50px;font-size:25px;color:#1d1d1b;left:1818.55px;transform:scaleX(1.0475)">900</div>
<div class="l ss md" style="top:1089.70px;font-size:34px;color:#1d1d1b;left:1970.64px;transform:scaleX(0.9275)">Bencina 93</div>
<div class="l ss md" style="top:1089.70px;font-size:34px;color:#1d1d1b;left:2243.52px;transform:scaleX(0.9408)">Kerosene doméstico (parafina)**</div>
<div class="l ss" style="top:1254.20px;font-size:33px;color:#1d1d1b;left:1841.71px;transform:scaleX(1.0431)">1.293,97</div>
<div class="l ss" style="top:1401.50px;font-size:33px;color:#1d1d1b;left:1841.71px;transform:scaleX(1.0431)">1.127,21</div>
<div class="l ss" style="top:1231.00px;font-size:36px;font-weight:700;color:#1d1d1b;left:2658.43px;transform:scaleX(1.0838)">1.222,33</div>
<div class="l ss" style="top:1493.20px;font-size:36px;font-weight:700;color:#1d1d1b;left:2658.45px;transform:scaleX(1.0759)">1.200,14</div>
<div class="l ss" style="top:1612.70px;font-size:25.5px;color:#1d1d1b;left:1900.50px">e</div>
<div class="l ss" style="top:1612.70px;font-size:25.5px;color:#1d1d1b;left:1966.37px">f</div>
<div class="l ss" style="top:1612.70px;font-size:25.5px;color:#1d1d1b;left:2022.24px">m</div>
<div class="l ss" style="top:1612.70px;font-size:25.5px;color:#1d1d1b;left:2087.11px">a</div>
<div class="l ss" style="top:1612.70px;font-size:25.5px;color:#1d1d1b;left:2146.98px">m</div>
<div class="l ss" style="top:1612.70px;font-size:25.5px;color:#1d1d1b;left:2218.35px">j</div>
<div class="l ss" style="top:1612.70px;font-size:25.5px;color:#1d1d1b;left:2280.72px">j</div>
<div class="l ss" style="top:1612.70px;font-size:25.5px;color:#1d1d1b;left:2336.59px">a</div>
<div class="l ss" style="top:1612.70px;font-size:25.5px;color:#1d1d1b;left:2400.96px">s</div>
<div class="l ss" style="top:1612.70px;font-size:25.5px;color:#1d1d1b;left:2461.83px">o</div>
<div class="l ss" style="top:1612.70px;font-size:25.5px;color:#1d1d1b;left:2524.70px">n</div>
<div class="l ss" style="top:1612.70px;font-size:25.5px;color:#1d1d1b;left:2587.07px">d</div>
<div class="l ss" style="top:1612.70px;font-size:25.5px;color:#1d1d1b;left:2648.94px">e</div>
<div class="l ss" style="top:1612.70px;font-size:25.5px;color:#1d1d1b;left:2714.81px">f</div>
<div class="l ss" style="top:1612.70px;font-size:25.5px;color:#1d1d1b;left:2768.06px">m*</div>
<div class="l ss" style="top:1651.30px;font-size:28.5px;font-weight:700;color:#1d1d1b;left:2218.20px;transform:scaleX(1.0165)">2025</div>
<div class="l ss" style="top:1650.50px;font-size:28.5px;font-weight:700;color:#1d1d1b;left:2675.20px;transform:scaleX(1.0200)">2026</div>
<div class="l ss" style="top:1698.20px;font-size:25.5px;color:#1d1d1b;left:1813.16px;transform:scaleX(1.0381)">(*) datos al 17/03/2026.</div>
<div class="l ss" style="top:1731.20px;font-size:25.5px;color:#1d1d1b;left:1813.29px;transform:scaleX(0.9148)">(**) Excluyen datos de la Región de Magallanes, y se incluye la R. de Tarapacá hasta julio 2025.</div>
<div class="l ss" style="top:1798.20px;font-size:26px;font-weight:700;color:#1d1d1b;left:1765.41px;transform:scaleX(0.8906)">Fuente</div>
<div class="l ss" style="top:1798.20px;font-size:26px;color:#1d1d1b;left:1854.80px;transform:scaleX(0.8048)">CNE</div>
<div class="l ss md" style="top:1800.20px;font-size:22px;color:#1d1d1b;left:2738.45px;transform:scaleX(0.8518)">EL MERCURIO</div>
</body></html>
